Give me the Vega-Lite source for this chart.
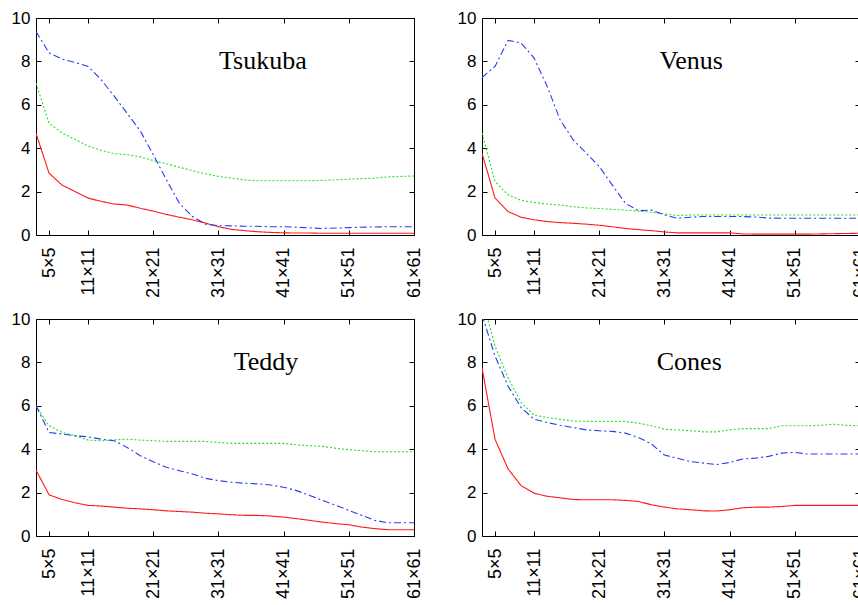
{
  "$schema": "https://vega.github.io/schema/vega-lite/v6.json",
  "padding": {"left": 10, "top": 8, "right": 0, "bottom": 0},
  "datasets": {
    "d": [
      {"panel":"Tsukuba","size":3,"M1":4.69,"M2":7.0,"M3":9.38},
      {"panel":"Tsukuba","size":5,"M1":2.85,"M2":5.15,"M3":8.4},
      {"panel":"Tsukuba","size":7,"M1":2.3,"M2":4.7,"M3":8.1},
      {"panel":"Tsukuba","size":9,"M1":2.0,"M2":4.4,"M3":7.95},
      {"panel":"Tsukuba","size":11,"M1":1.7,"M2":4.1,"M3":7.77},
      {"panel":"Tsukuba","size":13,"M1":1.55,"M2":3.9,"M3":7.15},
      {"panel":"Tsukuba","size":15,"M1":1.43,"M2":3.75,"M3":6.4},
      {"panel":"Tsukuba","size":17,"M1":1.38,"M2":3.7,"M3":5.6},
      {"panel":"Tsukuba","size":19,"M1":1.23,"M2":3.6,"M3":4.8},
      {"panel":"Tsukuba","size":21,"M1":1.1,"M2":3.43,"M3":3.7},
      {"panel":"Tsukuba","size":23,"M1":0.95,"M2":3.28,"M3":2.55},
      {"panel":"Tsukuba","size":25,"M1":0.82,"M2":3.12,"M3":1.46},
      {"panel":"Tsukuba","size":27,"M1":0.7,"M2":2.97,"M3":0.85},
      {"panel":"Tsukuba","size":29,"M1":0.55,"M2":2.82,"M3":0.5},
      {"panel":"Tsukuba","size":31,"M1":0.38,"M2":2.7,"M3":0.43},
      {"panel":"Tsukuba","size":33,"M1":0.26,"M2":2.62,"M3":0.42},
      {"panel":"Tsukuba","size":35,"M1":0.2,"M2":2.54,"M3":0.4},
      {"panel":"Tsukuba","size":37,"M1":0.15,"M2":2.5,"M3":0.4},
      {"panel":"Tsukuba","size":39,"M1":0.12,"M2":2.5,"M3":0.38},
      {"panel":"Tsukuba","size":41,"M1":0.1,"M2":2.5,"M3":0.38},
      {"panel":"Tsukuba","size":43,"M1":0.09,"M2":2.5,"M3":0.36},
      {"panel":"Tsukuba","size":45,"M1":0.09,"M2":2.5,"M3":0.33},
      {"panel":"Tsukuba","size":47,"M1":0.08,"M2":2.52,"M3":0.3},
      {"panel":"Tsukuba","size":49,"M1":0.08,"M2":2.54,"M3":0.32},
      {"panel":"Tsukuba","size":51,"M1":0.08,"M2":2.57,"M3":0.34},
      {"panel":"Tsukuba","size":53,"M1":0.08,"M2":2.6,"M3":0.36},
      {"panel":"Tsukuba","size":55,"M1":0.08,"M2":2.62,"M3":0.37},
      {"panel":"Tsukuba","size":57,"M1":0.08,"M2":2.68,"M3":0.38},
      {"panel":"Tsukuba","size":59,"M1":0.08,"M2":2.7,"M3":0.38},
      {"panel":"Tsukuba","size":61,"M1":0.08,"M2":2.72,"M3":0.38},
      {"panel":"Venus","size":3,"M1":3.77,"M2":4.7,"M3":7.26},
      {"panel":"Venus","size":5,"M1":1.7,"M2":2.46,"M3":7.77},
      {"panel":"Venus","size":7,"M1":1.08,"M2":1.85,"M3":8.97},
      {"panel":"Venus","size":9,"M1":0.82,"M2":1.6,"M3":8.85},
      {"panel":"Venus","size":11,"M1":0.7,"M2":1.5,"M3":8.15},
      {"panel":"Venus","size":13,"M1":0.62,"M2":1.43,"M3":6.85},
      {"panel":"Venus","size":15,"M1":0.57,"M2":1.38,"M3":5.3},
      {"panel":"Venus","size":17,"M1":0.54,"M2":1.3,"M3":4.38},
      {"panel":"Venus","size":19,"M1":0.5,"M2":1.25,"M3":3.77},
      {"panel":"Venus","size":21,"M1":0.45,"M2":1.22,"M3":3.15},
      {"panel":"Venus","size":23,"M1":0.38,"M2":1.18,"M3":2.3},
      {"panel":"Venus","size":25,"M1":0.3,"M2":1.15,"M3":1.46},
      {"panel":"Venus","size":27,"M1":0.25,"M2":1.1,"M3":1.12},
      {"panel":"Venus","size":29,"M1":0.2,"M2":1.05,"M3":1.15},
      {"panel":"Venus","size":31,"M1":0.14,"M2":0.97,"M3":0.92},
      {"panel":"Venus","size":33,"M1":0.1,"M2":0.9,"M3":0.77},
      {"panel":"Venus","size":35,"M1":0.1,"M2":0.92,"M3":0.82},
      {"panel":"Venus","size":37,"M1":0.1,"M2":0.92,"M3":0.85},
      {"panel":"Venus","size":39,"M1":0.1,"M2":0.92,"M3":0.85},
      {"panel":"Venus","size":41,"M1":0.1,"M2":0.92,"M3":0.85},
      {"panel":"Venus","size":43,"M1":0.05,"M2":0.92,"M3":0.85},
      {"panel":"Venus","size":45,"M1":0.04,"M2":0.92,"M3":0.83},
      {"panel":"Venus","size":47,"M1":0.04,"M2":0.92,"M3":0.78},
      {"panel":"Venus","size":49,"M1":0.04,"M2":0.92,"M3":0.77},
      {"panel":"Venus","size":51,"M1":0.04,"M2":0.92,"M3":0.77},
      {"panel":"Venus","size":53,"M1":0.04,"M2":0.92,"M3":0.77},
      {"panel":"Venus","size":55,"M1":0.05,"M2":0.92,"M3":0.77},
      {"panel":"Venus","size":57,"M1":0.06,"M2":0.92,"M3":0.77},
      {"panel":"Venus","size":59,"M1":0.07,"M2":0.92,"M3":0.77},
      {"panel":"Venus","size":61,"M1":0.08,"M2":0.92,"M3":0.77},
      {"panel":"Teddy","size":3,"M1":3.04,"M2":6.0,"M3":6.0},
      {"panel":"Teddy","size":5,"M1":1.9,"M2":5.08,"M3":4.77},
      {"panel":"Teddy","size":7,"M1":1.68,"M2":4.77,"M3":4.7},
      {"panel":"Teddy","size":9,"M1":1.53,"M2":4.62,"M3":4.62},
      {"panel":"Teddy","size":11,"M1":1.41,"M2":4.42,"M3":4.57},
      {"panel":"Teddy","size":13,"M1":1.38,"M2":4.39,"M3":4.46},
      {"panel":"Teddy","size":15,"M1":1.33,"M2":4.43,"M3":4.39},
      {"panel":"Teddy","size":17,"M1":1.28,"M2":4.46,"M3":4.08},
      {"panel":"Teddy","size":19,"M1":1.25,"M2":4.42,"M3":3.7},
      {"panel":"Teddy","size":21,"M1":1.21,"M2":4.39,"M3":3.42},
      {"panel":"Teddy","size":23,"M1":1.16,"M2":4.36,"M3":3.17},
      {"panel":"Teddy","size":25,"M1":1.13,"M2":4.36,"M3":3.01},
      {"panel":"Teddy","size":27,"M1":1.1,"M2":4.36,"M3":2.86},
      {"panel":"Teddy","size":29,"M1":1.05,"M2":4.36,"M3":2.66},
      {"panel":"Teddy","size":31,"M1":1.02,"M2":4.31,"M3":2.55},
      {"panel":"Teddy","size":33,"M1":0.98,"M2":4.27,"M3":2.48},
      {"panel":"Teddy","size":35,"M1":0.95,"M2":4.27,"M3":2.43},
      {"panel":"Teddy","size":37,"M1":0.95,"M2":4.27,"M3":2.4},
      {"panel":"Teddy","size":39,"M1":0.92,"M2":4.27,"M3":2.35},
      {"panel":"Teddy","size":41,"M1":0.87,"M2":4.27,"M3":2.25},
      {"panel":"Teddy","size":43,"M1":0.8,"M2":4.2,"M3":2.09},
      {"panel":"Teddy","size":45,"M1":0.72,"M2":4.16,"M3":1.87},
      {"panel":"Teddy","size":47,"M1":0.64,"M2":4.13,"M3":1.64},
      {"panel":"Teddy","size":49,"M1":0.57,"M2":4.04,"M3":1.41},
      {"panel":"Teddy","size":51,"M1":0.52,"M2":3.98,"M3":1.18},
      {"panel":"Teddy","size":53,"M1":0.41,"M2":3.93,"M3":0.95},
      {"panel":"Teddy","size":55,"M1":0.34,"M2":3.88,"M3":0.72},
      {"panel":"Teddy","size":57,"M1":0.29,"M2":3.88,"M3":0.61},
      {"panel":"Teddy","size":59,"M1":0.29,"M2":3.88,"M3":0.61},
      {"panel":"Teddy","size":61,"M1":0.29,"M2":3.88,"M3":0.61},
      {"panel":"Cones","size":3,"M1":7.75,"M2":11.0,"M3":10.2},
      {"panel":"Cones","size":5,"M1":4.46,"M2":8.75,"M3":8.29},
      {"panel":"Cones","size":7,"M1":3.09,"M2":7.29,"M3":6.91},
      {"panel":"Cones","size":9,"M1":2.32,"M2":6.15,"M3":5.92},
      {"panel":"Cones","size":11,"M1":1.97,"M2":5.57,"M3":5.38},
      {"panel":"Cones","size":13,"M1":1.83,"M2":5.46,"M3":5.23},
      {"panel":"Cones","size":15,"M1":1.76,"M2":5.38,"M3":5.1},
      {"panel":"Cones","size":17,"M1":1.68,"M2":5.3,"M3":5.0},
      {"panel":"Cones","size":19,"M1":1.67,"M2":5.28,"M3":4.89},
      {"panel":"Cones","size":21,"M1":1.67,"M2":5.28,"M3":4.85},
      {"panel":"Cones","size":23,"M1":1.67,"M2":5.28,"M3":4.82},
      {"panel":"Cones","size":25,"M1":1.64,"M2":5.28,"M3":4.74},
      {"panel":"Cones","size":27,"M1":1.59,"M2":5.2,"M3":4.54},
      {"panel":"Cones","size":29,"M1":1.44,"M2":5.08,"M3":4.24},
      {"panel":"Cones","size":31,"M1":1.33,"M2":4.92,"M3":3.73},
      {"panel":"Cones","size":33,"M1":1.25,"M2":4.89,"M3":3.58},
      {"panel":"Cones","size":35,"M1":1.21,"M2":4.85,"M3":3.43},
      {"panel":"Cones","size":37,"M1":1.16,"M2":4.8,"M3":3.36},
      {"panel":"Cones","size":39,"M1":1.15,"M2":4.8,"M3":3.29},
      {"panel":"Cones","size":41,"M1":1.21,"M2":4.89,"M3":3.39},
      {"panel":"Cones","size":43,"M1":1.3,"M2":4.95,"M3":3.55},
      {"panel":"Cones","size":45,"M1":1.33,"M2":4.95,"M3":3.59},
      {"panel":"Cones","size":47,"M1":1.33,"M2":4.95,"M3":3.67},
      {"panel":"Cones","size":49,"M1":1.36,"M2":5.08,"M3":3.82},
      {"panel":"Cones","size":51,"M1":1.41,"M2":5.08,"M3":3.85},
      {"panel":"Cones","size":53,"M1":1.41,"M2":5.08,"M3":3.78},
      {"panel":"Cones","size":55,"M1":1.41,"M2":5.1,"M3":3.78},
      {"panel":"Cones","size":57,"M1":1.41,"M2":5.15,"M3":3.78},
      {"panel":"Cones","size":59,"M1":1.41,"M2":5.1,"M3":3.78},
      {"panel":"Cones","size":61,"M1":1.41,"M2":5.08,"M3":3.78},
      {"panel":"Tsukuba","label":"Tsukuba","size":37.8,"lab_y":7.65},
      {"panel":"Venus","label":"Venus","size":35.1,"lab_y":7.65},
      {"panel":"Teddy","label":"Teddy","size":38.3,"lab_y":7.65},
      {"panel":"Cones","label":"Cones","size":34.8,"lab_y":7.65}
    ]
  },
  "data": {"name": "d"},
  "columns": 2,
  "spacing": {"row": 10, "column": 32},
  "concat": [
    {
      "transform": [{"filter": "datum.panel == 'Tsukuba'"}],
      "width": 378, "height": 217,
      "layer": [
        {
          "transform": [{"filter": "datum.label == null"}, {"fold": ["M1", "M2", "M3"], "as": ["method", "err"]}],
          "mark": {"type": "line", "clip": true, "strokeWidth": 1.1},
          "encoding": {
            "x": {"field": "size", "type": "quantitative", "scale": {"domain": [3, 61], "nice": false, "zero": false},
                  "axis": {"values": [5, 11, 21, 31, 41, 51, 61], "labelExpr": "datum.value + '×' + datum.value", "labelAngle": -90}},
            "y": {"field": "err", "type": "quantitative", "scale": {"domain": [0, 10], "nice": false},
                  "axis": {"values": [0, 2, 4, 6, 8, 10]}},
            "color": {"field": "method", "type": "nominal", "scale": {"domain": ["M1", "M2", "M3"], "range": ["#ff1a1a", "#22e022", "#2a3cf0"]}, "legend": null},
            "strokeDash": {"field": "method", "type": "nominal", "scale": {"domain": ["M1", "M2", "M3"], "range": [[1, 0], [2, 2], [7, 3, 2, 3]]}, "legend": null}
          }
        },
        {
          "transform": [{"filter": "datum.label != null"}],
          "mark": {"type": "text", "font": "Liberation Serif", "fontSize": 26, "align": "center", "baseline": "alphabetic", "color": "black"},
          "encoding": {
            "x": {"field": "size", "type": "quantitative", "scale": {"domain": [3, 61], "nice": false, "zero": false},
                  "axis": {"orient": "top", "values": [5, 11, 21, 31, 41, 51, 61]}},
            "y": {"field": "lab_y", "type": "quantitative", "scale": {"domain": [0, 10], "nice": false},
                  "axis": {"orient": "right", "values": [0, 2, 4, 6, 8, 10]}},
            "text": {"field": "label"}
          }
        }
      ],
      "resolve": {"axis": {"x": "independent", "y": "independent"}}
    },
    {
      "transform": [{"filter": "datum.panel == 'Venus'"}],
      "width": 378, "height": 217,
      "layer": [
        {
          "transform": [{"filter": "datum.label == null"}, {"fold": ["M1", "M2", "M3"], "as": ["method", "err"]}],
          "mark": {"type": "line", "clip": true, "strokeWidth": 1.1},
          "encoding": {
            "x": {"field": "size", "type": "quantitative", "scale": {"domain": [3, 61], "nice": false, "zero": false},
                  "axis": {"values": [5, 11, 21, 31, 41, 51, 61], "labelExpr": "datum.value + '×' + datum.value", "labelAngle": -90}},
            "y": {"field": "err", "type": "quantitative", "scale": {"domain": [0, 10], "nice": false},
                  "axis": {"values": [0, 2, 4, 6, 8, 10]}},
            "color": {"field": "method", "type": "nominal", "scale": {"domain": ["M1", "M2", "M3"], "range": ["#ff1a1a", "#22e022", "#2a3cf0"]}, "legend": null},
            "strokeDash": {"field": "method", "type": "nominal", "scale": {"domain": ["M1", "M2", "M3"], "range": [[1, 0], [2, 2], [7, 3, 2, 3]]}, "legend": null}
          }
        },
        {
          "transform": [{"filter": "datum.label != null"}],
          "mark": {"type": "text", "font": "Liberation Serif", "fontSize": 26, "align": "center", "baseline": "alphabetic", "color": "black"},
          "encoding": {
            "x": {"field": "size", "type": "quantitative", "scale": {"domain": [3, 61], "nice": false, "zero": false},
                  "axis": {"orient": "top", "values": [5, 11, 21, 31, 41, 51, 61]}},
            "y": {"field": "lab_y", "type": "quantitative", "scale": {"domain": [0, 10], "nice": false},
                  "axis": {"orient": "right", "values": [0, 2, 4, 6, 8, 10]}},
            "text": {"field": "label"}
          }
        }
      ],
      "resolve": {"axis": {"x": "independent", "y": "independent"}}
    },
    {
      "transform": [{"filter": "datum.panel == 'Teddy'"}],
      "width": 378, "height": 217,
      "layer": [
        {
          "transform": [{"filter": "datum.label == null"}, {"fold": ["M1", "M2", "M3"], "as": ["method", "err"]}],
          "mark": {"type": "line", "clip": true, "strokeWidth": 1.1},
          "encoding": {
            "x": {"field": "size", "type": "quantitative", "scale": {"domain": [3, 61], "nice": false, "zero": false},
                  "axis": {"values": [5, 11, 21, 31, 41, 51, 61], "labelExpr": "datum.value + '×' + datum.value", "labelAngle": -90}},
            "y": {"field": "err", "type": "quantitative", "scale": {"domain": [0, 10], "nice": false},
                  "axis": {"values": [0, 2, 4, 6, 8, 10]}},
            "color": {"field": "method", "type": "nominal", "scale": {"domain": ["M1", "M2", "M3"], "range": ["#ff1a1a", "#22e022", "#2a3cf0"]}, "legend": null},
            "strokeDash": {"field": "method", "type": "nominal", "scale": {"domain": ["M1", "M2", "M3"], "range": [[1, 0], [2, 2], [7, 3, 2, 3]]}, "legend": null}
          }
        },
        {
          "transform": [{"filter": "datum.label != null"}],
          "mark": {"type": "text", "font": "Liberation Serif", "fontSize": 26, "align": "center", "baseline": "alphabetic", "color": "black"},
          "encoding": {
            "x": {"field": "size", "type": "quantitative", "scale": {"domain": [3, 61], "nice": false, "zero": false},
                  "axis": {"orient": "top", "values": [5, 11, 21, 31, 41, 51, 61]}},
            "y": {"field": "lab_y", "type": "quantitative", "scale": {"domain": [0, 10], "nice": false},
                  "axis": {"orient": "right", "values": [0, 2, 4, 6, 8, 10]}},
            "text": {"field": "label"}
          }
        }
      ],
      "resolve": {"axis": {"x": "independent", "y": "independent"}}
    },
    {
      "transform": [{"filter": "datum.panel == 'Cones'"}],
      "width": 378, "height": 217,
      "layer": [
        {
          "transform": [{"filter": "datum.label == null"}, {"fold": ["M1", "M2", "M3"], "as": ["method", "err"]}],
          "mark": {"type": "line", "clip": true, "strokeWidth": 1.1},
          "encoding": {
            "x": {"field": "size", "type": "quantitative", "scale": {"domain": [3, 61], "nice": false, "zero": false},
                  "axis": {"values": [5, 11, 21, 31, 41, 51, 61], "labelExpr": "datum.value + '×' + datum.value", "labelAngle": -90}},
            "y": {"field": "err", "type": "quantitative", "scale": {"domain": [0, 10], "nice": false},
                  "axis": {"values": [0, 2, 4, 6, 8, 10]}},
            "color": {"field": "method", "type": "nominal", "scale": {"domain": ["M1", "M2", "M3"], "range": ["#ff1a1a", "#22e022", "#2a3cf0"]}, "legend": null},
            "strokeDash": {"field": "method", "type": "nominal", "scale": {"domain": ["M1", "M2", "M3"], "range": [[1, 0], [2, 2], [7, 3, 2, 3]]}, "legend": null}
          }
        },
        {
          "transform": [{"filter": "datum.label != null"}],
          "mark": {"type": "text", "font": "Liberation Serif", "fontSize": 26, "align": "center", "baseline": "alphabetic", "color": "black"},
          "encoding": {
            "x": {"field": "size", "type": "quantitative", "scale": {"domain": [3, 61], "nice": false, "zero": false},
                  "axis": {"orient": "top", "values": [5, 11, 21, 31, 41, 51, 61]}},
            "y": {"field": "lab_y", "type": "quantitative", "scale": {"domain": [0, 10], "nice": false},
                  "axis": {"orient": "right", "values": [0, 2, 4, 6, 8, 10]}},
            "text": {"field": "label"}
          }
        }
      ],
      "resolve": {"axis": {"x": "independent", "y": "independent"}}
    }
  ],
  "config": {
    "view": {"stroke": "black", "strokeWidth": 1},
    "axis": {"labelFont": "Liberation Sans", "labelFontSize": 17, "labelColor": "black", "tickColor": "black", "tickWidth": 1,
             "tickSize": -5, "domain": false, "grid": false, "title": null, "labelFlush": false, "labelOverlap": false},
    "axisBottom": {"labelPadding": 17, "labelFontSize": 18},
    "axisLeft": {"labelPadding": 11},
    "axisTop": {"labels": false},
    "axisRight": {"labels": false}
  }
}
